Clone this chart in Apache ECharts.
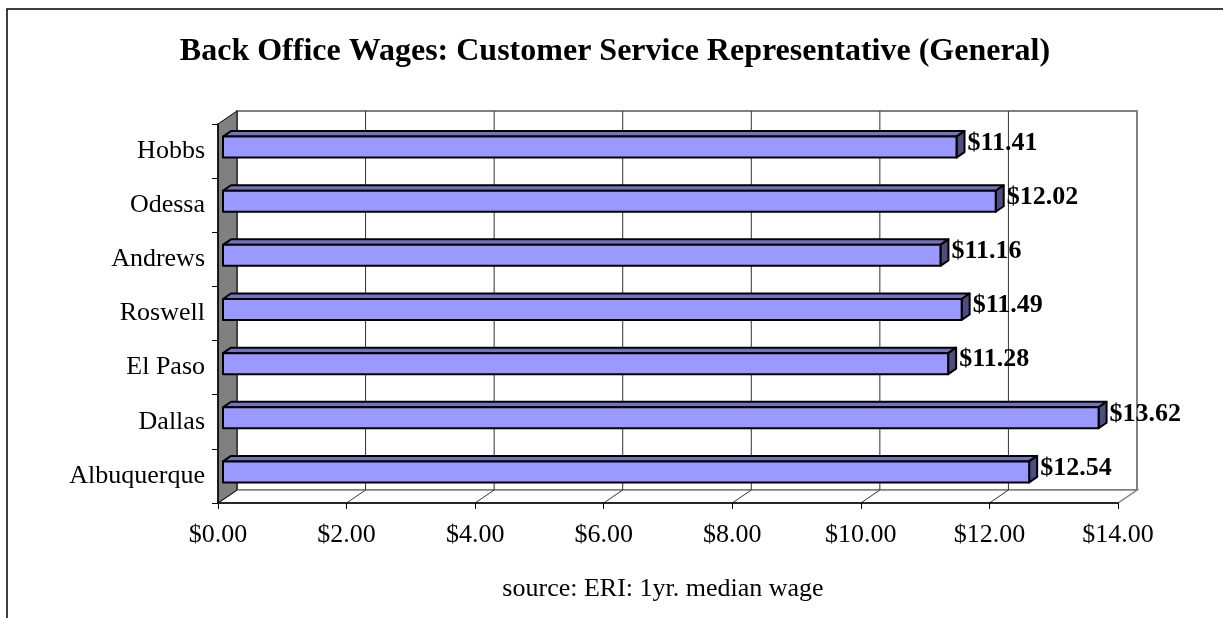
<!DOCTYPE html>
<html>
<head>
<meta charset="utf-8">
<script src="https://cdn.jsdelivr.net/npm/echarts@6/dist/echarts.min.js"></script>
<style>
html,body{margin:0;padding:0;background:#fff;}
#chart{width:1223px;height:618px;}
</style>
</head>
<body>
<div id="chart"></div>
<script>
// Data (bottom to top on the category axis)
const categories = ['Albuquerque', 'Dallas', 'El Paso', 'Roswell', 'Andrews', 'Odessa', 'Hobbs'];
const wages = [12.54, 13.62, 11.28, 11.49, 11.16, 12.02, 11.41];
const xTickValues = [0, 2, 4, 6, 8, 10, 12, 14];
const titleText = 'Back Office Wages: Customer Service Representative (General)';
const sourceText = 'source: ERI: 1yr. median wage';

const FONT = '"Liberation Serif", "Times New Roman", serif';
const DX = 19, DY = -13;          // depth of the 3D frame
const BX = 5, BY = -4;            // bar front face offset inside depth
const BDX = 8, BDY = -5.5;        // bar depth
const BAR_H = 21;

const chart = echarts.init(document.getElementById('chart'), null, {renderer: 'canvas'});

function fmt(v) { return '$' + v.toFixed(2); }

const option = {
  backgroundColor: '#fff',
  animation: false,
  title: {show: false},
  graphic: [
    {type: 'rect', shape: {x: 7, y: 9, width: 1400, height: 800}, style: {fill: 'none', stroke: '#000', lineWidth: 1.5}, z: 0},
    {type: 'text', x: 615, y: 52, style: {text: titleText, font: 'bold 32px ' + FONT, fill: '#000', align: 'center', verticalAlign: 'middle'}},
    {type: 'text', x: 663, y: 589, style: {text: sourceText, font: '26px ' + FONT, fill: '#000', align: 'center', verticalAlign: 'middle'}}
  ],
  grid: {left: 218, right: 105, top: 124, bottom: 115, containLabel: false, outerBoundsMode: 'none'},
  xAxis: {
    type: 'value', min: 0, max: 14, interval: 2, z: 10,
    axisLine: {show: true, lineStyle: {color: '#000', width: 1.5}},
    axisTick: {show: true, length: 6, lineStyle: {color: '#000', width: 1}},
    splitLine: {show: false},
    axisLabel: {formatter: fmt, color: '#000', fontFamily: FONT, fontSize: 26, margin: 19}
  },
  yAxis: {
    type: 'category', data: categories, z: 10,
    axisLine: {show: true, lineStyle: {color: '#000', width: 1.5}},
    axisTick: {show: true, length: 6, alignWithLabel: false, lineStyle: {color: '#000', width: 1}},
    axisLabel: {color: '#000', fontFamily: FONT, fontSize: 26, margin: 13},
    splitLine: {show: false}
  },
  series: [
    {
      type: 'custom', name: 'frame', z: 1, silent: true, clip: false,
      data: [[0, 0]],
      renderItem: function (params, api) {
        const cs = params.coordSys;
        const left = cs.x, top = cs.y, w = cs.width, h = cs.height;
        const bottom = top + h, right = left + w;
        const children = [];
        // back wall
        children.push({type: 'rect', shape: {x: left + DX, y: top + DY, width: w, height: h},
          style: {fill: '#fff', stroke: '#808080', lineWidth: 2}});
        // floor
        children.push({type: 'polygon', shape: {points: [[left, bottom], [left + DX, bottom + DY], [right + DX, bottom + DY], [right, bottom]]},
          style: {fill: '#fff', stroke: '#808080', lineWidth: 1.5}});
        // grid lines on back wall and floor
        xTickValues.forEach(function (v) {
          if (v === xTickValues[0] || v === xTickValues[xTickValues.length - 1]) return;
          const px = api.coord([v, 0])[0];
          children.push({type: 'line', shape: {x1: px + DX, y1: top + DY, x2: px + DX, y2: bottom + DY},
            style: {stroke: '#333', lineWidth: 1}});
          children.push({type: 'line', shape: {x1: px + DX, y1: bottom + DY, x2: px, y2: bottom},
            style: {stroke: '#333', lineWidth: 1}});
        });
        // left wall
        children.push({type: 'polygon', shape: {points: [[left, top], [left + DX, top + DY], [left + DX, bottom + DY], [left, bottom]]},
          style: {fill: '#808080', stroke: '#000', lineWidth: 1}});
        return {type: 'group', children: children};
      }
    },
    {
      type: 'custom', name: 'wages', z: 3, clip: false,
      data: wages.map(function (v, i) { return [v, i]; }),
      encode: {x: 0, y: 1},
      renderItem: function (params, api) {
        const v = api.value(0), idx = api.value(1);
        const c0 = api.coord([0, idx]);
        const c1 = api.coord([v, idx]);
        const x0 = c0[0] + BX, x1 = c1[0] + BX;
        const yt = c0[1] + BY - BAR_H / 2, yb = yt + BAR_H;
        const stroke = {stroke: '#000', lineWidth: 2, lineJoin: 'round'};
        return {type: 'group', children: [
          {type: 'polygon', shape: {points: [[x0, yt], [x0 + BDX, yt + BDY], [x1 + BDX, yt + BDY], [x1, yt]]},
            style: Object.assign({fill: '#7373BF'}, stroke)},
          {type: 'polygon', shape: {points: [[x1, yt], [x1 + BDX, yt + BDY], [x1 + BDX, yb + BDY], [x1, yb]]},
            style: Object.assign({fill: '#4D4D80'}, stroke)},
          {type: 'rect', shape: {x: x0, y: yt, width: x1 - x0, height: BAR_H},
            style: Object.assign({fill: '#9999FF'}, stroke)},
          {type: 'text', x: x1 + BDX + 3, y: c1[1] - 8,
            style: {text: fmt(v), font: 'bold 26px ' + FONT, fill: '#000', align: 'left', verticalAlign: 'middle'}}
        ]};
      }
    }
  ]
};
chart.setOption(option);
</script>
</body>
</html>
